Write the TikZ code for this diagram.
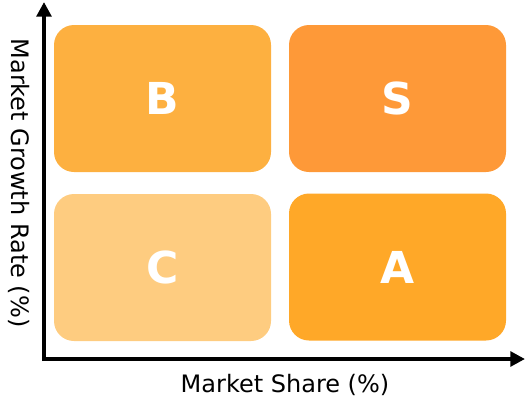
\documentclass[tikz,border=0pt]{standalone}
\usepackage{fontspec}
\setmainfont{DejaVu Sans}
\usetikzlibrary{arrows.meta}
\definecolor{cB}{RGB}{253,176,64}
\definecolor{cS}{RGB}{254,153,56}
\definecolor{cC}{RGB}{254,204,128}
\definecolor{cA}{RGB}{255,168,40}
\begin{document}
\begin{tikzpicture}[x=0.75pt,y=-0.75pt,
  quad/.style={rounded corners=15pt,minimum width=217*0.75pt,minimum height=147*0.75pt,
    text=white,font=\fontsize{33}{40}\selectfont\bfseries,inner sep=0pt},
  axis/.style={line width=3pt,-{Triangle[length=11pt,width=11pt]}},
  axlabel/.style={font=\fontsize{18}{22}\selectfont,inner sep=0pt}]
\useasboundingbox (0,0) rectangle (525,397);
\node[quad,fill=cB] (B) at (162.5,98.5) {B};
\node[quad,fill=cS] (S) at (397.5,98.5) {S};
\node[quad,fill=cC] (C) at (162.5,267.5) {C};
\node[quad,fill=cA] (A) at (397.5,267) {A};
\coordinate (O) at (44,359);
\coordinate (Y) at (44,2);
\coordinate (X) at (525,359);
\draw[axis] ([yshift=-1.5pt]O) -- (Y);
\draw[axis] ([xshift=-1.5pt]O) -- (X);
\node[axlabel] (xl) at (285,385) {Market Share (\%)};
\node[axlabel,rotate=-90] (yl) at (19,183) {Market Growth Rate (\%)};
\end{tikzpicture}
\end{document}
